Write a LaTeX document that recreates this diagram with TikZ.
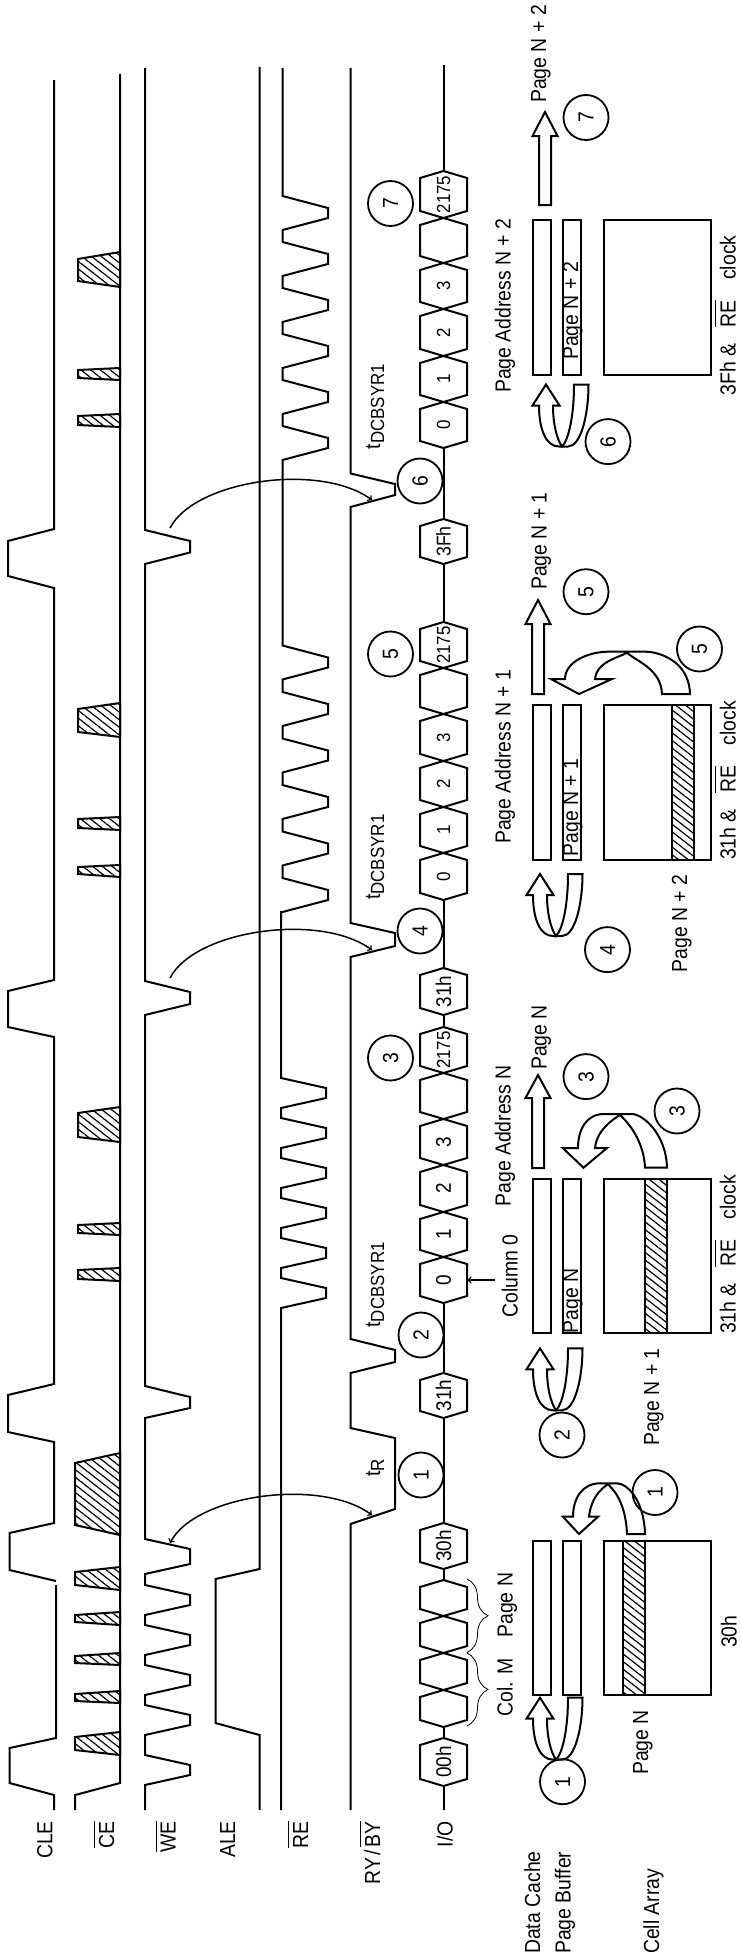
\documentclass[tikz,border=0pt]{standalone}
\usepackage{fontspec}
\setmainfont[FakeStretch=0.89]{Liberation Sans}
\usetikzlibrary{positioning,patterns.meta,decorations.pathreplacing}
\newcommand{\lblsize}{\fontsize{21.8}{24}\selectfont}
\newcommand{\overtxt}[1]{$\overline{\rule{0pt}{18.6pt}\mbox{#1}}$}
\newcommand{\tdc}{t\raisebox{-4pt}{\fontsize{19}{22}\selectfont DCBSYR1}}
\tikzset{
  sigline/.style={line width=2pt,line join=miter},
  hatchfill/.style={pattern={Lines[angle=-38,distance=6pt,line width=1.2pt]}},
  lbl/.style={rotate=90,inner sep=0pt,font=\lblsize,anchor=base west},
  siglbl/.style={rotate=90,inner sep=0pt,font=\lblsize,anchor=base east},
  hexlbl/.style={rotate=90,inner sep=0pt},
  numcircle/.style={circle,draw,line width=1.8pt,minimum size=45pt,inner sep=0pt,rotate=90,font=\lblsize},
  thinarc/.style={line width=1.5pt},
}
\begin{document}
\begin{tikzpicture}[x=1pt,y=-1pt]
    \useasboundingbox (0,0) rectangle (741,1959);
    % signals
    \draw[sigline] (54,1810) -- (54,1795) -- (9.5,1783) -- (9.5,1748) -- (56,1738) -- (56,1585);
    \draw[sigline] (56,1581) -- (9.5,1570) -- (9.5,1533) -- (54,1523) -- (54,1442) -- (8,1432) -- (8,1395) -- (54,1384)
        -- (54,1037) -- (8,1027) -- (8,991) -- (54,980) -- (54,588) -- (8,576) -- (8,541) -- (54,529) -- (54,80);
    \draw[sigline] (75,1810) -- (75,1795) -- (120,1783) -- (120,74);
    \draw[sigline] (145,1810) -- (145,1785) -- (190,1775) -- (190,1765) -- (145,1755) -- (145,1735) -- (190,1725) -- (190,1715)
        -- (145,1705) -- (145,1695) -- (190,1685) -- (190,1675) -- (145,1665) -- (145,1655) -- (190,1645) -- (190,1635)
        -- (145,1625) -- (145,1615) -- (190,1605) -- (190,1595) -- (145,1585) -- (145,1574) -- (190,1564) -- (190,1549)
        -- (145,1539) -- (145,1418) -- (190,1408) -- (190,1397) -- (145,1386) -- (145,1015) -- (190,1004) -- (190,992)
        -- (145,981) -- (145,564) -- (190,552.5) -- (190,541) -- (145,530) -- (145,68);
    \draw[sigline] (259.5,1810) -- (259.5,1735) -- (215.5,1723) -- (215.5,1579) -- (259.5,1569) -- (259.5,67);
    \draw[sigline] (281,1810) foreach \c in {0,...,5} { -- (281,1308-40*\c) -- (326,1298-40*\c) -- (326,1288-40*\c) -- (281,1278-40*\c) }
        -- (281,912) foreach \c in {0,...,5} { -- (282.5,912-46.5*\c) -- (328,900-46.5*\c) -- (328,890-46.5*\c) -- (282.5,878-46.5*\c) }
        foreach \c in {0,...,5} { -- (282.5,460-46*\c) -- (328,448-46*\c) -- (328,438-46*\c) -- (282.5,426-46*\c) } -- (282.5,68);
    \draw[sigline] (350.5,1810) -- (350.5,1524) -- (395,1509) -- (395,1438) -- (350.5,1428) -- (350.5,1373) -- (395,1362) -- (395,1350)
        -- (350.5,1339) -- (350.5,957) -- (395,946) -- (395,933) -- (350.5,923) -- (350.5,507) -- (395,495) -- (395,484)
        -- (350.5,473.5) -- (350.5,68);
    % CE pulses
    \foreach \xt/\ba/\bb/\ta/\tb in {75/1755/1732/1750/1737, 75/1703/1691/1701/1694, 75/1665/1653/1663/1656, 75/1625/1612/1622/1615,
        75/1590/1567/1585/1572, 75/1535/1453/1525/1463, 78/1281/1268/1279/1270, 78/1235/1223/1233/1225, 78/1142/1107/1137/1113,
        78/877/865/874/867, 78/830/817/828/819, 78/737/703/732/709, 78/427/414/425/416, 78/380/368/378/370, 78/287/252/281/259} {
        \draw[sigline,hatchfill] (120,\ba) -- (\xt,\ta) -- (\xt,\tb) -- (120,\bb) -- cycle;
    }
    % I/O bus
    \foreach \n/\ya/\yb/\s/\fs in {h1/1786/1738/00h/21.3, h2/1727/1690//21, h3/1690/1653//21, h4/1653/1616//21, h5/1616/1580//21,
        h6/1569/1523/30h/21.3, h7/1418/1373/31h/21.3, h8/1303/1257/0/21.3, h9/1257/1212/1/21.3, h10/1212/1165/2/21.3, h11/1165/1119/3/21.3,
        h12/1119/1073//21, h13/1073/1027/2175/19, h14/1015/968/31h/21.3, h15/900/853/0/19, h16/853/807/1/19, h17/807/761/2/19,
        h18/761/714/3/19, h19/714/668//19, h20/668/622/2175/19, h21/564/519/3Fh/20, h22/448/402/0/19, h23/402/356/1/19,
        h24/356/309/2/19, h25/309/263/3/19, h26/263/218//19, h27/218/171/2175/19} {
        \draw[sigline] (443.5,\ya) -- (467,\ya-7) -- (467,\yb+7) -- (443.5,\yb) -- (420,\yb+7) -- (420,\ya-7) -- cycle;
        \coordinate (\n-a) at (443.5,\ya);
        \coordinate (\n-b) at (443.5,\yb);
        \node[hexlbl,font=\fontsize{\fs}{24}\selectfont] (\n) at (443.5,{(\ya+\yb)/2}) {\s};
    }
    \coordinate (iobot) at (443.5,1810);
    \coordinate (iotop) at (443.5,65);
    \foreach \p/\q in {iobot/h1-a, h1-b/h2-a, h5-b/h6-a, h6-b/h7-a, h7-b/h8-a, h13-b/h14-a, h14-b/h15-a, h20-b/h21-a, h21-b/h22-a, h27-b/iotop} {
        \draw[sigline] (\p) -- (\q);
    }
    % braces
    \coordinate (colA) at (467,1653);
    \coordinate (colB) at (467,1726);
    \coordinate (pgA) at (467,1579);
    \coordinate (pgB) at (467,1652.5);
    \draw[line width=0.8pt,decorate,decoration={brace,amplitude=21pt,aspect=0.5}] (colA) -- (colB);
    \draw[line width=0.8pt,decorate,decoration={brace,amplitude=21pt,aspect=0.5}] (pgA) -- (pgB);
    % Column 0
    \coordinate (colt) at (495,1280);
    \coordinate (colh) at (467.5,1280);
    \draw[->,thinarc] (colt) -- (colh);
    % WE to RY
    \foreach \d/\tips in {565/<->, 0/->, -450/->} {
        \coordinate (we\d) at (170,978+\d);
        \coordinate (ry\d) at (372,950+\d);
        \draw[\tips,thinarc] (we\d) .. controls (195,930+\d) and (320,912+\d) .. (ry\d);
    }
    % cell blocks
    \foreach \yt/\yb in {1541/1695, 1179/1333, 705/859.5, 220/375} {
        \draw[sigline] (533,\yt) rectangle (551,\yb);
        \draw[sigline] (563,\yt) rectangle (580.5,\yb);
        \draw[sigline] (604,\yt) rectangle (711,\yb);
    }
    \draw[sigline,hatchfill] (622.5,1541) rectangle (644.5,1695);
    \draw[sigline,hatchfill] (645,1179) rectangle (667,1333);
    \draw[sigline,hatchfill] (672,705) rectangle (694,859.5);
    % block arrows
    \foreach \xc/\yt/\yh/\ye in {538/1075/1098/1168, 538/600/624/694, 545/112/136/205} {
        \draw[sigline] (\xc,\yt) -- (\xc+12.5,\yh) -- (\xc+6,\yh) -- (\xc+6,\ye) -- (\xc-6,\ye) -- (\xc-6,\yh) -- (\xc-12.5,\yh) -- cycle;
    }
    \foreach \dx/\dy in {0/1697.7, 0/1348.3, 0/874, 6/384.5} {
        \draw[sigline] (540+\dx,\dy) -- (553.5+\dx,\dy+21) -- (547+\dx,\dy+21)
            .. controls (547+\dx,\dy+40) and (551+\dx,\dy+55) .. (556+\dx,\dy+62)
            .. controls (563+\dx,\dy+55) and (568+\dx,\dy+30) .. (568+\dx,\dy) -- (582.5+\dx,\dy)
            .. controls (582.5+\dx,\dy+30) and (575+\dx,\dy+62) .. (562+\dx,\dy+62) -- (553+\dx,\dy+62)
            .. controls (540+\dx,\dy+62) and (533+\dx,\dy+45) .. (533+\dx,\dy+21) -- (526.5+\dx,\dy+21) -- cycle;
    }
    \foreach \tx/\ty/\hb/\hl/\hr/\sl/\sr/\ay/\al/\ar/\cx/\tl/\tr in {
        579/1534/1516.7/563/598/573/589/1483.3/600/616.7/608/627/645,
        583.5/1167.7/1148/562.7/607/578/595/1114/604/632/620/645/667,
        579/694/679/551/612/565/595/651.7/608/646/627/662/690} {
        \draw[sigline] (\tx,\ty) -- (\hr,\hb) -- (\sr,\hb)
            .. controls (\sr+2,\hb-18) and (\cx-8,\ay+6) .. (\cx,\ay+1)
            .. controls (\cx+10,\ay+10) and (\tl-1,\ty-25) .. (\tl,\ty) -- (\tr,\ty)
            .. controls (\tr-1,\ty-35) and (\ar+10,\ay) .. (\ar,\ay) -- (\al,\ay)
            .. controls (\al-18,\ay) and (\sl,\hb-18) .. (\sl,\hb) -- (\hl,\hb) -- cycle;
    }
    % step numbers
    \foreach \n/\x/\y/\s in {t1/421/1475/1, t2/421/1335/2, t3/390.5/1058/3, t4/420/931/4, t5/390.5/654/5, t6/420/481/6, t7/390.5/203.5/7,
        b1/562.5/1781.7/1, a1/655/1492.5/1, b2/562/1435/2, b3/586/1076.6/3, a3/677/1111/3, b4/607.5/949.6/4,
        b5/586/591.7/5, a5/699.5/649/5, b6/608/441.6/6, b7/586/117.5/7} {
        \node[numcircle] (\n) at (\x,\y) {\s};
    }
    % signal names
    \node[siglbl] (lcle) at (52.3,1821) {CLE};
    \node[siglbl] (lce) at (114,1821) {\overtxt{CE}};
    \node[siglbl] (lwe) at (175.7,1821) {\overtxt{WE}};
    \node[siglbl] (lale) at (235,1821) {ALE};
    \node[siglbl] (lre) at (308,1821) {\overtxt{RE}};
    \node[siglbl] (lry) at (380,1821) {RY\hspace{2.5pt}/\hspace{2.5pt}\overtxt{BY}};
    \node[siglbl] (lio) at (452.5,1821) {I/O};
    % timing names
    \node[lbl] (tr) at (380,1476.7) {t\raisebox{-4pt}{\fontsize{19}{22}\selectfont R}};
    \node[lbl] (tdc1) at (380,1327.7) {\tdc};
    \node[lbl] (tdc2) at (380,900) {\tdc};
    \node[lbl] (tdc3) at (380,449.4) {\tdc};
    % block names
    \node[lbl] (ldc) at (540,1954) {Data Cache};
    \node[lbl] (lpb) at (570.5,1954) {Page Buffer};
    \node[lbl] (lca) at (659,1954) {Cell Array};
    \node[lbl] (lcm) at (512.5,1716.7) {Col. M};
    \node[lbl] (lpn) at (512.5,1637.7) {Page N};
    \node[lbl] (lpn1) at (648,1775) {Page N};
    \node[lbl] (l30) at (736.5,1648) {30h};
    \node[lbl] (lc0) at (517.5,1317.7) {Column 0};
    \node[lbl] (lpa1) at (510.5,1206.7) {Page Address N};
    \node[lbl] (lpo1) at (546.5,1070) {Page N};
    \node[lbl] (lpi1) at (578,1333.3) {Page N};
    \node[lbl] (lpu1) at (659,1446) {Page N + 1};
    \node[lbl] (lclk1) at (735.5,1334) {31h \&\hspace{.75em}\overtxt{RE}\hspace{.95em}clock};
    \node[lbl] (lpa2) at (510.5,844) {Page Address N + 1};
    \node[lbl] (lpo2) at (546.5,590) {Page N + 1};
    \node[lbl] (lpi2) at (578,856.7) {Page N + 1};
    \node[lbl] (lpu2) at (687,972.7) {Page N + 2};
    \node[lbl] (lclk2) at (735.5,860) {31h \&\hspace{.75em}\overtxt{RE}\hspace{.95em}clock};
    \node[lbl] (lpa3) at (510.5,393) {Page Address N + 2};
    \node[lbl] (lpo3) at (546,103) {Page N + 2};
    \node[lbl] (lpi3) at (578,360) {Page N + 2};
    \node[lbl] (lclk3) at (735.5,395.7) {3Fh \&\hspace{.75em}\overtxt{RE}\hspace{.95em}clock};
\end{tikzpicture}
\end{document}
